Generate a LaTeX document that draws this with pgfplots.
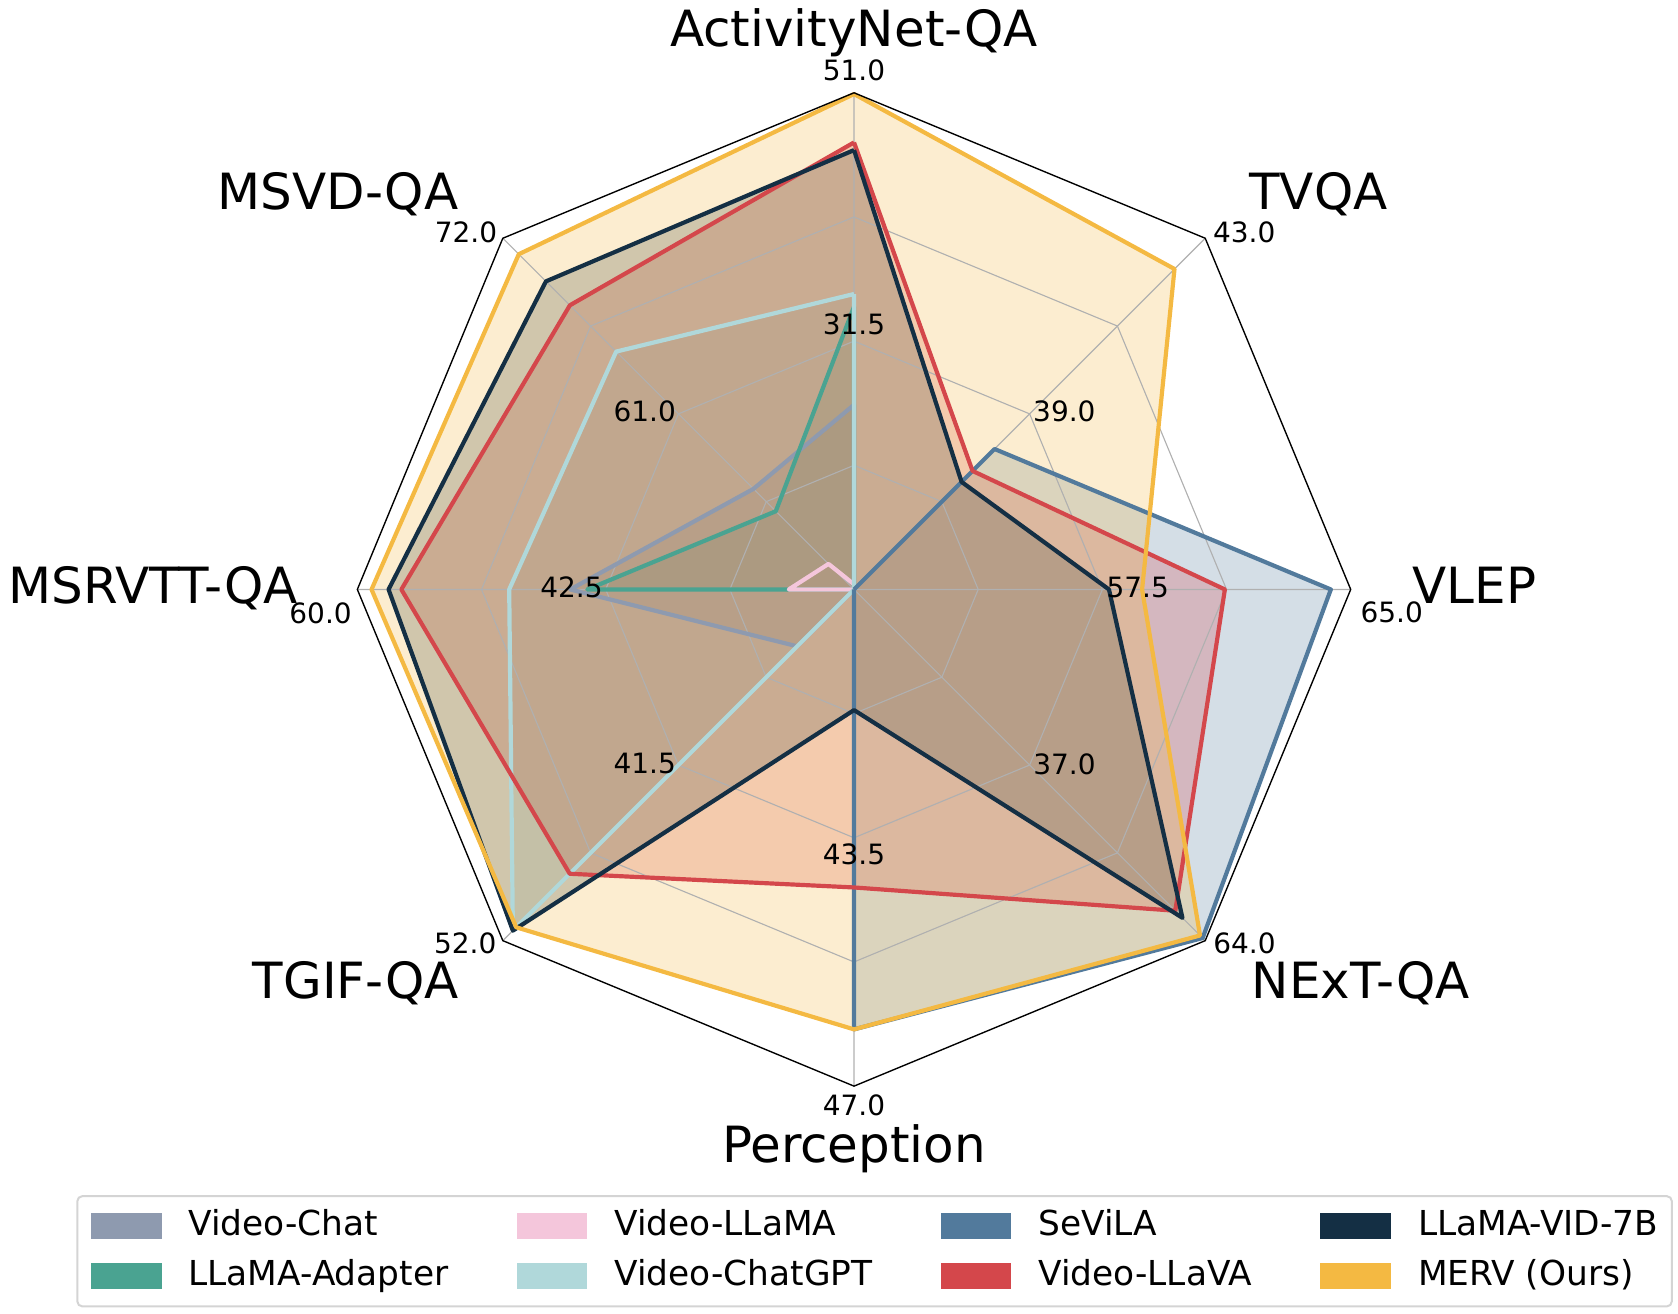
\documentclass[border=0pt]{standalone}
\usepackage{pgfplots}
\pgfplotsset{compat=1.18}
\usepackage{pgfplotstable}
\usepackage{fontspec}
\setmainfont{DejaVu Sans}
\definecolor{cVC}{RGB}{142,154,175}
\definecolor{cLA}{RGB}{74,163,145}
\definecolor{cVL}{RGB}{244,198,219}
\definecolor{cVG}{RGB}{176,216,218}
\definecolor{cSV}{RGB}{82,122,156}
\definecolor{cVV}{RGB}{212,71,75}
\definecolor{cLV}{RGB}{20,47,68}
\definecolor{cMV}{RGB}{244,185,66}
\definecolor{gridgray}{RGB}{176,176,176}
\definecolor{legendgray}{RGB}{212,212,212}

% ang = direction of the axis; lo = value at centre, hi = value at outer ring
\pgfplotstableread{
ang  lo hi VC   LA   VL   VG   SV   VV   LV    MV
90   12 51 26.5 34.2 12.4 35.2 0    47.1 46.5  50.9
45   35 43 0    0    0    0    38.2 37.7 37.45 42.3
0    50 65 0    0    0    0    64.4 61.2 57.7  58.7
-45  10 64 0    0    0    0    63.6 59.4 60.5  63.2
-90  40 47 0    0    0    0    46.2 44.2 41.7  46.2
-135 31 52 34.4 0    0    51.4 0    48.0 51.4  51.2
180  25 60 45.0 43.8 29.6 49.3 0    56.9 57.8  59.0
135  50 72 56.3 54.9 51.6 64.9 0    67.8 69.3  71.0
90   12 51 26.5 34.2 12.4 35.2 0    47.1 46.5  50.9
}\radardata

\newcommand{\rr}[1]{max(0,(\thisrow{#1}-\thisrow{lo})/(\thisrow{hi}-\thisrow{lo}))}
\newcommand{\radarfill}[2]{\addplot[draw=none, fill=#2, fill opacity=0.25, forget plot] table[x expr={\rr{#1}*cos(\thisrow{ang})}, y expr={\rr{#1}*sin(\thisrow{ang})}] {\radardata};}
\newcommand{\radarline}[2]{\addplot[draw=#2, line width=1.67pt, line join=round, forget plot] table[x expr={\rr{#1}*cos(\thisrow{ang})}, y expr={\rr{#1}*sin(\thisrow{ang})}] {\radardata};}
\newcommand{\ring}[2]{\addplot[#2, forget plot, line join=miter] table[x expr={#1*cos(\thisrow{ang})}, y expr={#1*sin(\thisrow{ang})}] {\radardata};}
\newcommand{\catfont}{\fontsize{19.9}{23}\selectfont}
\newcommand{\tickfont}{\fontsize{11.15}{13}\selectfont}
\newcommand{\legpatch}[1]{\addlegendimage{legend image code/.code={\fill[#1, sharp corners] (0cm,-0.168cm) rectangle (0.96cm,0.168cm);}}}

\begin{document}
\begin{tikzpicture}
\begin{axis}[
  x=6.958cm, y=6.958cm,
  xmin=-1.717, xmax=1.659, ymin=-1.458, ymax=1.186,
  hide axis, clip=false,
  legend columns=4,
  legend cell align=left,
  legend style={at={(axis cs:0.0414,-1.2195)}, anchor=north,
    draw=legendgray, line width=0.8pt, rounded corners=0.07cm,
    inner xsep=0.192cm, inner ysep=0.205cm,
    font=\fontsize{13.7}{16}\selectfont, row sep=0.27cm,
    nodes={inner sep=0pt, text height=0.98em, text depth=0.25em},
    /tikz/every odd column/.append style={column sep=0.378cm},
    /tikz/every even column/.append style={column sep=0.96cm}},
]
% fixed page frame
\path (axis cs:-1.717,-1.458) rectangle (axis cs:1.659,1.186);

% fills (below the grid)
\radarfill{VC}{cVC}
\radarfill{LA}{cLA}
\radarfill{VL}{cVL}
\radarfill{VG}{cVG}
\radarfill{SV}{cSV}
\radarfill{VV}{cVV}
\radarfill{LV}{cLV}
\radarfill{MV}{cMV}

% grid
\ring{0.25}{gridgray, line width=0.45pt}
\ring{0.5}{gridgray, line width=0.45pt}
\ring{0.75}{gridgray, line width=0.45pt}
\addplot[gridgray, line width=0.45pt, forget plot] coordinates {(0,0)(0,1) (0,0)(0.70711,0.70711) (0,0)(1,0) (0,0)(0.70711,-0.70711) (0,0)(0,-1) (0,0)(-0.70711,-0.70711) (0,0)(-1,0) (0,0)(-0.70711,0.70711)};

% outlines (above the grid)
\radarline{VC}{cVC}
\radarline{LA}{cLA}
\radarline{VL}{cVL}
\radarline{VG}{cVG}
\radarline{SV}{cSV}
\radarline{VV}{cVV}
\radarline{LV}{cLV}
\radarline{MV}{cMV}
\ring{1}{black, line width=0.55pt}

% legend (row-major order to reproduce column-wise layout)
\legpatch{cVC}\addlegendentry{Video-Chat}
\legpatch{cVL}\addlegendentry{Video-LLaMA}
\legpatch{cSV}\addlegendentry{SeViLA}
\legpatch{cLV}\addlegendentry{LLaMA-VID-7B}
\legpatch{cLA}\addlegendentry{LLaMA-Adapter}
\legpatch{cVG}\addlegendentry{Video-ChatGPT}
\legpatch{cVV}\addlegendentry{Video-LLaVA}
\legpatch{cMV}\addlegendentry{MERV (Ours)}

% category names
\node[font=\catfont, anchor=base] at (axis cs:0,1.0936) {ActivityNet-QA};
\node[font=\catfont, anchor=base] at (axis cs:0.935,0.7646) {TVQA};
\node[font=\catfont, anchor=base] at (axis cs:1.249,-0.0282) {VLEP};
\node[font=\catfont, anchor=base] at (axis cs:1.02,-0.8229) {NExT-QA};
\node[font=\catfont, anchor=base] at (axis cs:0,-1.1543) {Perception};
\node[font=\catfont, anchor=base] at (axis cs:-1.003,-0.8226) {TGIF-QA};
\node[font=\catfont, anchor=base] at (axis cs:-1.411,-0.0282) {MSRVTT-QA};
\node[font=\catfont, anchor=base] at (axis cs:-1.0389,0.7646) {MSVD-QA};

% outer values
\node[font=\tickfont, anchor=base] at (axis cs:0,1.0247) {51.0};
\node[font=\tickfont, anchor=base] at (axis cs:0.7857,0.6982) {43.0};
\node[font=\tickfont, anchor=base] at (axis cs:1.0825,-0.0672) {65.0};
\node[font=\tickfont, anchor=base] at (axis cs:0.786,-0.7324) {64.0};
\node[font=\tickfont, anchor=base] at (axis cs:0,-1.06) {47.0};
\node[font=\tickfont, anchor=base] at (axis cs:-0.7827,-0.7324) {52.0};
\node[font=\tickfont, anchor=base] at (axis cs:-1.074,-0.0678) {60.0};
\node[font=\tickfont, anchor=base] at (axis cs:-0.7813,0.6994) {72.0};

% middle values
\node[font=\tickfont, anchor=base] at (axis cs:0,0.5131) {31.5};
\node[font=\tickfont, anchor=base] at (axis cs:0.4235,0.3372) {39.0};
\node[font=\tickfont, anchor=base] at (axis cs:0.5712,-0.0169) {57.5};
\node[font=\tickfont, anchor=base] at (axis cs:0.4237,-0.3716) {37.0};
\node[font=\tickfont, anchor=base] at (axis cs:0,-0.5541) {43.5};
\node[font=\tickfont, anchor=base] at (axis cs:-0.4215,-0.3702) {41.5};
\node[font=\tickfont, anchor=base] at (axis cs:-0.569,-0.0169) {42.5};
\node[font=\tickfont, anchor=base] at (axis cs:-0.4215,0.3372) {61.0};
\end{axis}
\end{tikzpicture}
\end{document}
